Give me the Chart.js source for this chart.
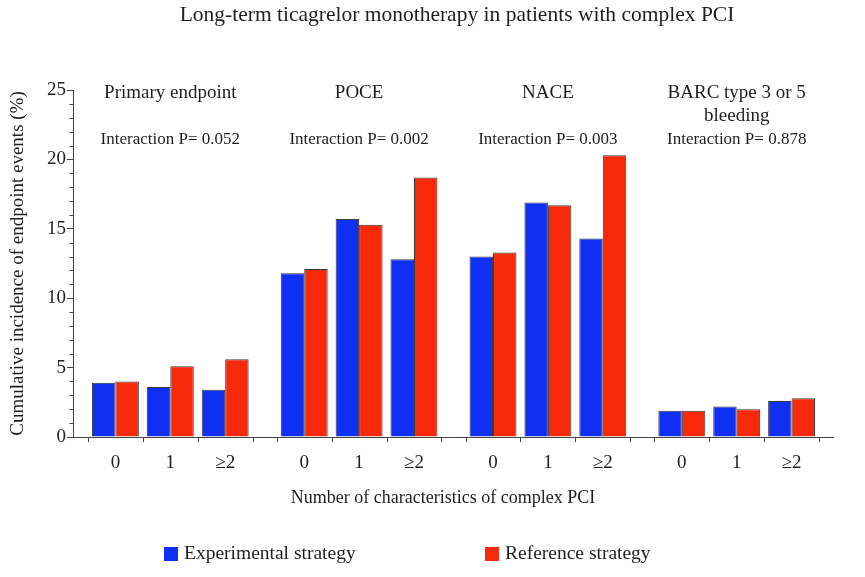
<!DOCTYPE html>
<html>
<head>
<meta charset="utf-8">
<script src="https://cdn.jsdelivr.net/npm/chart.js@4.4.1/dist/chart.umd.min.js"></script>
<style>
  html, body { margin: 0; padding: 0; background: #ffffff; }
  #wrap { width: 865px; height: 577px; }
</style>
</head>
<body>
<div id="wrap"><canvas id="c" width="865" height="577"></canvas></div>
<script>
// ---- data ----
const chartTitle = 'Long-term ticagrelor monotherapy in patients with complex PCI';
const xAxisTitle = 'Number of characteristics of complex PCI';
const yAxisTitle = 'Cumulative incidence of endpoint events (%)';
const panelTitles = [['Primary endpoint'], ['POCE'], ['NACE'], ['BARC type 3 or 5', 'bleeding']];
const interactionP = ['0.052', '0.002', '0.003', '0.878'];
const categories = ['0', '1', '\u22652'];
const seriesNames = ['Experimental strategy', 'Reference strategy'];
const experimental = [3.9, 3.6, 3.4, 11.8, 15.7, 12.8, 13.0, 16.9, 14.3, 1.9, 2.2, 2.6];
const reference    = [4.0, 5.1, 5.6, 12.1, 15.3, 18.7, 13.3, 16.7, 20.3, 1.9, 2.0, 2.8];
const yTicks = [0, 5, 10, 15, 20, 25];

// ---- layout helpers (category index -> axis position) ----
const GAP = 0.44;                 // gap between panels, in category widths
const STRIDE = categories.length + GAP;
const posOf = i => Math.floor(i / categories.length) * STRIDE + (i % categories.length);
const nItems = experimental.length;
const centers = Array.from({length: nItems}, (_, i) => posOf(i));

const FONT = "'Liberation Serif', 'Times New Roman', serif";
const TXT = '#1e1e1e';
const AXIS = '#444444';
const BLUE = '#0f2ff2';
const RED = '#f7290b';

const toXY = arr => arr.map((v, i) => ({x: posOf(i), y: v}));

const extras = {
  id: 'extras',
  afterDraw(chart) {
    const {ctx, chartArea, scales: {x, y}} = chart;
    ctx.save();
    // minor y ticks
    ctx.strokeStyle = AXIS;
    ctx.lineWidth = 1;
    const ax = Math.round(chartArea.left) + 0.5;
    for (let v = y.min; v <= y.max; v++) {
      if (yTicks.includes(v)) continue;
      const py = Math.round(y.getPixelForValue(v)) + 0.5;
      ctx.beginPath(); ctx.moveTo(ax - 4, py); ctx.lineTo(ax, py); ctx.stroke();
    }
    // x boundary ticks
    const by = Math.round(chartArea.bottom);
    for (let p = 0; p < panelTitles.length; p++) {
      for (let k = 0; k <= categories.length; k++) {
        const px = Math.round(x.getPixelForValue(p * STRIDE + k - 0.5)) + 0.5;
        ctx.beginPath(); ctx.moveTo(px, by); ctx.lineTo(px, by + 5); ctx.stroke();
      }
    }
    ctx.fillStyle = TXT;
    ctx.textAlign = 'center';
    ctx.textBaseline = 'middle';
    const midX = (chartArea.left + chartArea.right) / 2;
    // main title
    ctx.font = "21.5px " + FONT;
    ctx.fillText(chartTitle, midX + 4, 15);
    // x axis title
    ctx.font = "18px " + FONT;
    ctx.fillText(xAxisTitle, midX - 10, chartArea.bottom + 61);
    // panel titles
    for (let p = 0; p < panelTitles.length; p++) {
      const cx = x.getPixelForValue(p * STRIDE + 1);
      ctx.font = "19px " + FONT;
      panelTitles[p].forEach((t, j) => ctx.fillText(t, cx, chartArea.top + 3 + j * 23));
      ctx.font = "17px " + FONT;
      ctx.fillText('Interaction P= ' + interactionP[p], cx, chartArea.top + 50);
    }
    // legend
    const ly = chartArea.bottom + 117;
    const lx = [chartArea.left + 91, chartArea.left + 412];
    chart.data.datasets.forEach((ds, i) => {
      ctx.fillStyle = ds.backgroundColor;
      ctx.fillRect(lx[i], ly - 7, 14, 14);
      ctx.fillStyle = TXT;
      ctx.textAlign = 'left';
      ctx.font = "19.5px " + FONT;
      ctx.fillText(ds.label, lx[i] + 20, ly);
    });
    ctx.restore();
  }
};

new Chart(document.getElementById('c'), {
  type: 'bar',
  data: {
    datasets: [
      {label: seriesNames[0], data: toXY(experimental), backgroundColor: BLUE, borderColor: '#3a3a3a', borderWidth: 1, borderSkipped: 'bottom'},
      {label: seriesNames[1], data: toXY(reference), backgroundColor: RED, borderColor: '#3a3a3a', borderWidth: 1, borderSkipped: 'bottom'}
    ]
  },
  options: {
    responsive: false,
    animation: false,
    devicePixelRatio: 1,
    categoryPercentage: 0.855,
    barPercentage: 1.0,
    layout: {padding: {left: 0, right: 32, top: 90, bottom: 0}},
    plugins: {
      legend: {display: false},
      tooltip: {enabled: false},
      title: {display: false}
    },
    scales: {
      x: {
        type: 'linear',
        offset: false,
        min: -0.5 - 15 / 55,
        max: posOf(nItems - 1) + 0.5 + 14 / 55,
        afterBuildTicks: s => { s.ticks = centers.map(v => ({value: v})); },
        afterFit: s => { s.height = 140; },
        ticks: {
          autoSkip: false, maxRotation: 0, padding: 15,
          color: TXT, font: {family: FONT, size: 19},
          callback: (v, i) => categories[i % categories.length]
        },
        grid: {display: false, drawTicks: false, offset: false},
        border: {display: true, color: AXIS, width: 1},
        title: {display: false}
      },
      y: {
        min: 0, max: 25,
        afterBuildTicks: s => { s.ticks = yTicks.map(v => ({value: v})); },
        afterFit: s => { s.width = 73; },
        ticks: {color: TXT, font: {family: FONT, size: 19}, padding: 1},
        grid: {drawOnChartArea: false, drawTicks: true, tickLength: 6, color: AXIS},
        border: {display: true, color: AXIS, width: 1},
        title: {
          display: true, text: yAxisTitle,
          color: TXT, font: {family: FONT, size: 19},
          padding: {top: 6.6, bottom: 0}
        }
      }
    }
  },
  plugins: [extras]
});
</script>
</body>
</html>
